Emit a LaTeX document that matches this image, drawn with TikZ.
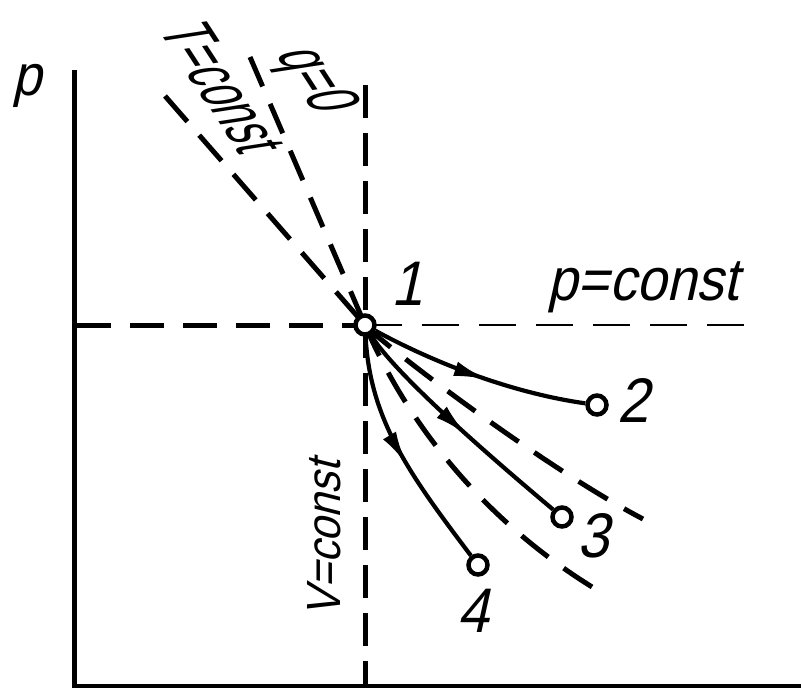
\documentclass[tikz,border=0pt]{standalone}
\usepackage{fontspec}
\setmainfont{Liberation Sans}[FakeStretch=0.9]
\newfontfamily\narrowfont{Liberation Sans}[FakeStretch=0.64]
\usetikzlibrary{decorations.markings,arrows.meta,backgrounds}
\begin{document}
\begin{tikzpicture}[x=1pt,y=-1pt,
  pt/.style={circle,draw,fill=white,line width=4.5pt,minimum size=19pt,inner sep=0pt},
  axis/.style={line width=5pt},
  thickdash/.style={line width=5pt,dash pattern=on 34pt off 19pt},
  thindash/.style={line width=2pt,dash pattern=on 37pt off 20pt},
  proc/.style={line width=4.2pt,postaction={decorate},
    decoration={markings,mark=at position #1 with {\arrow{Latex[length=34pt,width=15pt]}}}},
  lbl/.style={inner sep=0pt,font=\fontsize{63}{63}\selectfont,xslant=0.22},
  rlbl/.style={inner sep=0pt,font=\narrowfont\fontsize{66}{66}\selectfont,rotate=-57,xslant=0.45}
]
\useasboundingbox (0,0) rectangle (801,688);

\node[pt] (n1) at (365,325) {};
\node[pt] (n2) at (597,405) {};
\node[pt] (n3) at (562,517) {};
\node[pt] (n4) at (478,565) {};

\coordinate (ytop) at (74,70);
\coordinate (orig) at (74,686);
\coordinate (xend) at (801,686);
\coordinate (hleft) at (77,325);
\coordinate (pend) at (758,325);
\coordinate (vtop) at (365,85);
\coordinate (vbot) at (365,686);
\coordinate (tend) at (165,96);
\coordinate (qend) at (250,57);
\coordinate (tlow) at (597,590);
\coordinate (qlow) at (643,519);

\node[lbl,anchor=base] (l1) at (407,305) {1};
\node[lbl,anchor=base] (l2) at (633,422) {2};
\node[lbl,anchor=base] (l3) at (593,557) {3};
\node[lbl,anchor=base] (l4) at (473,632) {4};
\node[lbl,font=\fontsize{60}{60}\selectfont,anchor=base] (lp) at (643,300) {p=const};
\node[lbl,font=\fontsize{58}{58}\selectfont,anchor=base] (py) at (27,95) {p};
\node[inner sep=0pt,font=\fontsize{48}{48}\selectfont,rotate=90,xslant=0.25] (lv) at (324,535) {V=const};
\node[rlbl] (lt) at (223,88) {T=const};
\node[rlbl] (lq) at (313,81) {q=0};

\begin{scope}[on background layer]
\draw[axis] (ytop) -- (orig) -- (xend);
\draw[thickdash] (hleft) -- (n1.center);
\draw[thindash] (n1.center) -- (pend);
\draw[thickdash,dash pattern=on 33pt off 15pt] (vtop) -- (vbot);
\draw[thickdash,dash pattern=on 34pt off 18pt] (tend) -- (n1.center);
\draw[thickdash,dash pattern=on 32pt off 19pt] (qend) -- (n1.center);
\draw[thickdash] (n1.center) .. controls (410,430) and (490,525) .. (tlow);
\draw[thickdash] (n1.center) .. controls (380,342) and (540,465) .. (qlow);
\end{scope}

\draw[proc=0.55] (n1) .. controls (425,358) and (505,392) .. (n2);
\draw[proc=0.55] (n1) .. controls (395,375) and (500,465) .. (n3);
\draw[proc=0.55] (n1) .. controls (370,420) and (410,475) .. (n4);
\end{tikzpicture}
\end{document}
